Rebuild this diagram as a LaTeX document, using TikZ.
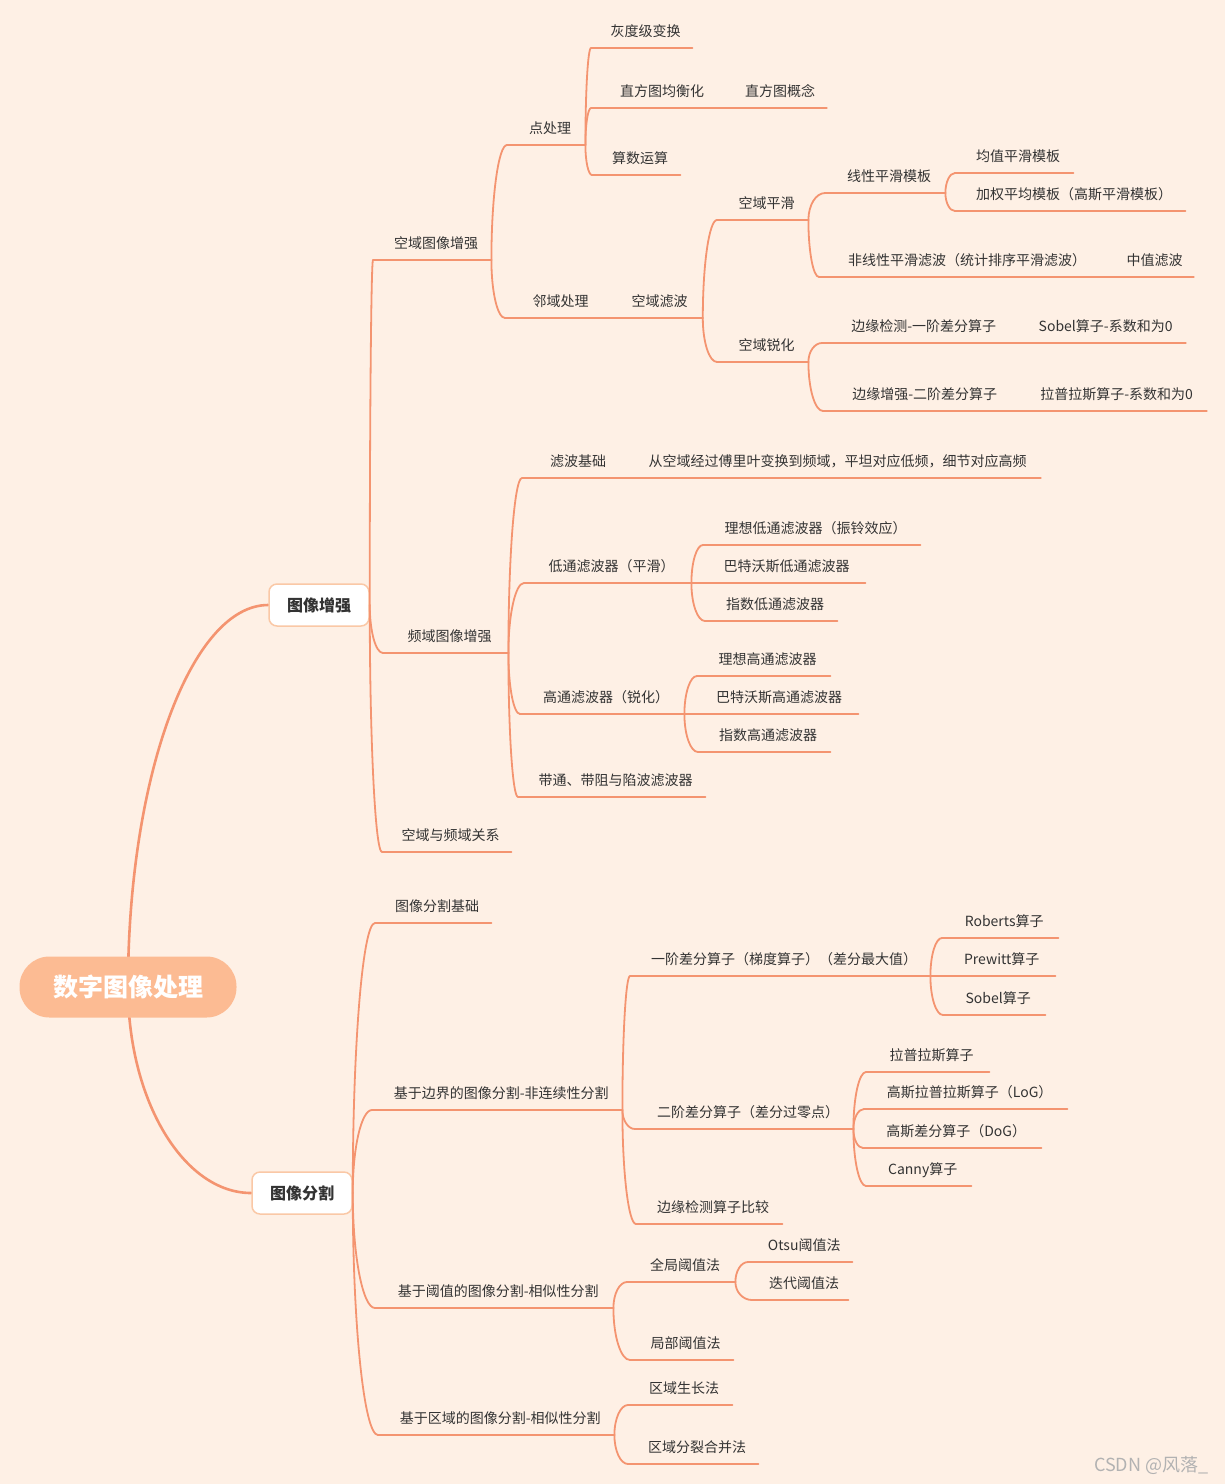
\documentclass[tikz,border=0pt]{standalone}
\usepackage{fontspec}
\setmainfont{Noto Sans CJK SC}
\usepackage{tikz}
\usetikzlibrary{positioning, calc, backgrounds}
\definecolor{bgpeach}{RGB}{254,240,229}
\definecolor{linesalmon}{RGB}{244,148,112}
\definecolor{rootfill}{RGB}{252,187,147}
\definecolor{boxedge}{RGB}{250,200,166}
\definecolor{txtdark}{RGB}{51,51,51}
\tikzset{
    topic/.style={anchor=south west, inner xsep=0pt, inner ysep=8pt,
                  text height=11pt, text depth=3pt,
                  execute at begin node=\hspace*{8pt},
                  font=\fontsize{14}{16}\selectfont, text=txtdark},
    mainbox/.style={rectangle, rounded corners=8pt, draw=boxedge, line width=1.5pt,
                    fill=white, minimum width=100pt, minimum height=42pt,
                    font=\fontsize{16}{18}\selectfont\bfseries, text=txtdark},
    rootbox/.style={rectangle, rounded corners=30pt, fill=rootfill,
                    minimum width=217pt, minimum height=61pt,
                    font=\fontsize{25}{28}\selectfont\bfseries, text=white},
    uline/.style={draw=linesalmon, line width=1.8pt, line cap=round},
    branch/.style={draw=linesalmon, line width=1.8pt, line cap=round,
                   to path={let \p1=(\tikztostart), \p2=(\tikztotarget) in
                   .. controls (\x1, {\y1+0.55*(\y2-\y1)}) and ({\x2-0.55*(\x2-\x1)}, \y2) .. (\tikztotarget)}},
    rootlink/.style={branch, line width=2.6pt},
}

\begin{document}
\begin{tikzpicture}[x=1pt, y=-1pt]
    \useasboundingbox (0,0) rectangle (1225,1484);
    % root and main boxes
    \node[rootbox] (root) at (128,987) {数字图像处理};
    \node[mainbox] (enh) at (319,605) {图像增强};
    \node[mainbox] (seg) at (302,1193) {图像分割};

    % spatial enhancement
    \node[topic, minimum width=118pt] (spat) at (373,260) {空域图像增强};
    \node[topic, minimum width=78pt] (pt) at (507,145) {点处理};
    \node[topic, minimum width=101pt] (gray) at (591,48) {灰度级变换};
    \node[topic, minimum width=134pt] (hist) at (591,108) {直方图均衡化};
    \node[topic, minimum width=101pt, right=0pt of hist] (histc) {直方图概念};
    \node[topic, minimum width=88pt] (arith) at (592,175) {算数运算};
    \node[topic, minimum width=103pt] (nbr) at (505,318) {邻域处理};
    \node[topic, minimum width=94pt, right=0pt of nbr] (sfilt) {空域滤波};
    \node[topic, minimum width=91pt] (smooth) at (717,220) {空域平滑};
    \node[topic, minimum width=120pt] (lin) at (825,193) {线性平滑模板};
    \node[topic, minimum width=118pt] (mean) at (955,173) {均值平滑模板};
    \node[topic, minimum width=230pt] (wavg) at (955,211) {加权平均模板（高斯平滑模板）};
    \node[topic, minimum width=288pt] (nonlin) at (819,277) {非线性平滑滤波（统计排序平滑滤波）};
    \node[topic, minimum width=86pt, right=0pt of nonlin] (median) {中值滤波};
    \node[topic, minimum width=91pt] (sharp) at (717,362) {空域锐化};
    \node[topic, minimum width=195pt] (edge1) at (822,343) {边缘检测-一阶差分算子};
    \node[topic, minimum width=168pt, right=0pt of edge1] (sobel0) {Sobel算子-系数和为0};
    \node[topic, minimum width=195pt] (edge2) at (823,411) {边缘增强-二阶差分算子};
    \node[topic, minimum width=188pt, right=0pt of edge2] (lap0) {拉普拉斯算子-系数和为0};

    % frequency enhancement
    \node[topic, minimum width=125pt] (freq) at (383,653) {频域图像增强};
    \node[topic, minimum width=104pt] (fbase) at (522,478) {滤波基础};
    \node[topic, minimum width=414pt, right=0pt of fbase] (fbase2) {从空域经过傅里叶变换到频域，平坦对应低频，细节对应高频};
    \node[topic, minimum width=167pt] (low) at (524,583) {低通滤波器（平滑）};
    \node[topic, minimum width=217pt] (ilp) at (703,545) {理想低通滤波器（振铃效应）};
    \node[topic, minimum width=165pt] (blp) at (700,583) {巴特沃斯低通滤波器};
    \node[topic, minimum width=132pt] (elp) at (705,621) {指数低通滤波器};
    \node[topic, minimum width=164pt] (high) at (520,714) {高通滤波器（锐化）};
    \node[topic, minimum width=133pt] (ihp) at (697,676) {理想高通滤波器};
    \node[topic, minimum width=166pt] (bhp) at (692,714) {巴特沃斯高通滤波器};
    \node[topic, minimum width=132pt] (ehp) at (698,752) {指数高通滤波器};
    \node[topic, minimum width=187pt] (band) at (518,797) {带通、带阻与陷波滤波器};
    \node[topic, minimum width=129pt] (rel) at (382,852) {空域与频域关系};

    % segmentation
    \node[topic, minimum width=116pt] (segb) at (375,923) {图像分割基础};
    \node[topic, minimum width=250pt] (edgeseg) at (372,1110) {基于边界的图像分割-非连续性分割};
    \node[topic, minimum width=300pt] (fo) at (630,976) {一阶差分算子（梯度算子）（差分最大值）};
    \node[topic, minimum width=116pt] (rob) at (942,938) {Roberts算子};
    \node[topic, minimum width=115pt] (pre) at (940,976) {Prewitt算子};
    \node[topic, minimum width=102pt] (sob) at (943,1015) {Sobel算子};
    \node[topic, minimum width=218pt] (so) at (635,1129) {二阶差分算子（差分过零点）};
    \node[topic, minimum width=123pt] (lapl) at (866,1072) {拉普拉斯算子};
    \node[topic, minimum width=203pt] (log) at (864,1109) {高斯拉普拉斯算子（LoG）};
    \node[topic, minimum width=178pt] (dog) at (863,1148) {高斯差分算子（DoG）};
    \node[topic, minimum width=105pt] (canny) at (866,1186) {Canny算子};
    \node[topic, minimum width=146pt] (cmp) at (636,1224) {边缘检测算子比较};
    \node[topic, minimum width=238pt] (thr) at (375,1308) {基于阈值的图像分割-相似性分割};
    \node[topic, minimum width=108pt] (glob) at (627,1282) {全局阈值法};
    \node[topic, minimum width=104pt] (otsu) at (748,1262) {Otsu阈值法};
    \node[topic, minimum width=96pt] (iter) at (752,1300) {迭代阈值法};
    \node[topic, minimum width=103pt] (loc) at (630,1360) {局部阈值法};
    \node[topic, minimum width=236pt] (reg) at (378,1435) {基于区域的图像分割-相似性分割};
    \node[topic, minimum width=104pt] (grow) at (628,1405) {区域生长法};
    \node[topic, minimum width=130pt] (split) at (628,1464) {区域分裂合并法};

    \node[anchor=east, text=black!30, font=\fontsize{18}{20}\selectfont] (mark) at (1212,1465) {CSDN @风落\_};

    % underlines
    \foreach \n in {spat, pt, gray, hist, histc, arith, nbr, sfilt, smooth, lin, mean, wavg,
                    nonlin, median, sharp, edge1, sobel0, edge2, lap0, freq, fbase, fbase2,
                    low, ilp, blp, elp, high, ihp, bhp, ehp, band, rel, segb, edgeseg, fo,
                    rob, pre, sob, so, lapl, log, dog, canny, cmp, thr, glob, otsu, iter,
                    loc, reg, grow, split}
        \draw[uline] (\n.south west) -- (\n.south east);

    % branches
    \draw[branch] (enh.east) to (spat.south west);
    \draw[branch] (enh.east) to (freq.south west);
    \draw[branch] (enh.east) to (rel.south west);
    \draw[branch] (spat.south east) to (pt.south west);
    \draw[branch] (spat.south east) to (nbr.south west);
    \draw[branch] (pt.south east) to (gray.south west);
    \draw[branch] (pt.south east) to (hist.south west);
    \draw[branch] (pt.south east) to (arith.south west);
    \draw[branch] (sfilt.south east) to (smooth.south west);
    \draw[branch] (sfilt.south east) to (sharp.south west);
    \draw[branch] (smooth.south east) to (lin.south west);
    \draw[branch] (smooth.south east) to (nonlin.south west);
    \draw[branch] (lin.south east) to (mean.south west);
    \draw[branch] (lin.south east) to (wavg.south west);
    \draw[branch] (sharp.south east) to (edge1.south west);
    \draw[branch] (sharp.south east) to (edge2.south west);
    \draw[branch] (freq.south east) to (fbase.south west);
    \draw[branch] (freq.south east) to (low.south west);
    \draw[branch] (freq.south east) to (high.south west);
    \draw[branch] (freq.south east) to (band.south west);
    \draw[branch] (low.south east) to (ilp.south west);
    \draw[branch] (low.south east) to (blp.south west);
    \draw[branch] (low.south east) to (elp.south west);
    \draw[branch] (high.south east) to (ihp.south west);
    \draw[branch] (high.south east) to (bhp.south west);
    \draw[branch] (high.south east) to (ehp.south west);
    \draw[branch] (seg.east) to (segb.south west);
    \draw[branch] (seg.east) to (edgeseg.south west);
    \draw[branch] (seg.east) to (thr.south west);
    \draw[branch] (seg.east) to (reg.south west);
    \draw[branch] (edgeseg.south east) to (fo.south west);
    \draw[branch] (edgeseg.south east) to (so.south west);
    \draw[branch] (edgeseg.south east) to (cmp.south west);
    \draw[branch] (fo.south east) to (rob.south west);
    \draw[branch] (fo.south east) to (pre.south west);
    \draw[branch] (fo.south east) to (sob.south west);
    \draw[branch] (so.south east) to (lapl.south west);
    \draw[branch] (so.south east) to (log.south west);
    \draw[branch] (so.south east) to (dog.south west);
    \draw[branch] (so.south east) to (canny.south west);
    \draw[branch] (thr.south east) to (glob.south west);
    \draw[branch] (thr.south east) to (loc.south west);
    \draw[branch] (glob.south east) to (otsu.south west);
    \draw[branch] (glob.south east) to (iter.south west);
    \draw[branch] (reg.south east) to (grow.south west);
    \draw[branch] (reg.south east) to (split.south west);

    \begin{scope}[on background layer]
        \fill[bgpeach] (0,0) rectangle (1225,1484);
        \draw[rootlink] (root.center) to (enh.west);
        \draw[rootlink] (root.center) to (seg.west);
    \end{scope}
\end{tikzpicture}
\end{document}
